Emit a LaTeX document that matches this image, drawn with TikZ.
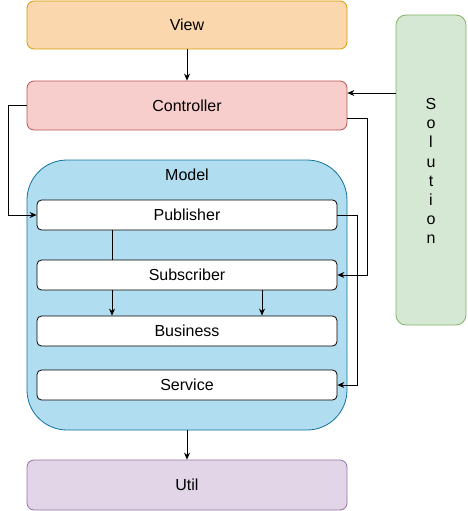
\documentclass[tikz,border=0pt]{standalone}
\usepackage{fontspec}
\setmainfont{Liberation Sans}
\usetikzlibrary{arrows.meta}
\definecolor{viewf}{HTML}{FAD7AC}\definecolor{viewd}{HTML}{D79B00}
\definecolor{ctrlf}{HTML}{F8CECC}\definecolor{ctrld}{HTML}{B85450}
\definecolor{modf}{HTML}{B1DDF0}\definecolor{modd}{HTML}{10739E}
\definecolor{utilf}{HTML}{E1D5E7}\definecolor{utild}{HTML}{9673A6}
\definecolor{solf}{HTML}{D5E8D4}\definecolor{sold}{HTML}{82B366}
\begin{document}
\begin{tikzpicture}[x=1pt,y=-1pt,
  every node/.style={font=\fontsize{16}{19}\selectfont},
  layerbox/.style={rectangle,rounded corners=7pt,minimum width=320pt,minimum height=48pt,inner sep=0pt,line width=0.8pt},
  innerbox/.style={rectangle,rounded corners=4.5pt,draw=black,fill=white,minimum width=300pt,minimum height=30pt,inner sep=0pt,line width=0.8pt},
  conn/.style={line width=0.8pt,-{Stealth[length=7pt,width=6pt]}},
  plain/.style={line width=0.8pt}]
\useasboundingbox (0,0) rectangle (467,511);
\node[layerbox,fill=viewf,draw=viewd] (view) at (187,25) {View};
\node[layerbox,fill=ctrlf,draw=ctrld,minimum height=49pt] (ctrl) at (187,105.5) {Controller};
\node[rectangle,rounded corners=40pt,fill=modf,draw=modd,minimum width=320pt,minimum height=270pt,line width=0.8pt] (model) at (187,295) {};
\node (modellabel) at (187,175) {Model};
\node[innerbox] (pub) at (187,215) {Publisher};
\node[innerbox] (sub) at (187,275) {Subscriber};
\node[innerbox] (bus) at (187,331) {Business};
\node[innerbox] (ser) at (187,385) {Service};
\node[layerbox,fill=utilf,draw=utild,minimum height=50pt] (util) at (187,485) {Util};
\node[rectangle,rounded corners=10pt,fill=solf,draw=sold,minimum width=70pt,minimum height=310pt,line width=0.8pt,inner sep=0pt] (sol) at (431,170) {};
\node[align=center,font=\fontsize{16}{19.1}\selectfont,inner sep=0pt] (soltext) at (431,171) {S\\o\\l\\u\\t\\i\\o\\n};
\coordinate (c1) at (8,105.5);
\coordinate (c2) at (8,215);
\coordinate (c3) at (367,118);
\coordinate (c4) at (367,275);
\coordinate (c5) at (357,215);
\coordinate (c6) at (357,385);
\draw[conn] (view.south) -- (ctrl.north);
\draw[conn] (ctrl.west) -- (c1) -- (c2) -- (pub.west);
\draw[conn] (sol.west |- 0,93) -- (ctrl.east |- 0,93);
\draw[conn] (ctrl.east |- c3) -- (c3) -- (c4) -- (sub.east);
\draw[conn] (pub.east) -- (c5) -- (c6) -- (ser.east);
\draw[plain] (pub.south -| 112,0) -- (sub.north -| 112,0);
\draw[conn] (sub.south -| 112,0) -- (bus.north -| 112,0);
\draw[conn] (sub.south -| 262,0) -- (bus.north -| 262,0);
\draw[conn] (model.south) -- (util.north);
\end{tikzpicture}
\end{document}
